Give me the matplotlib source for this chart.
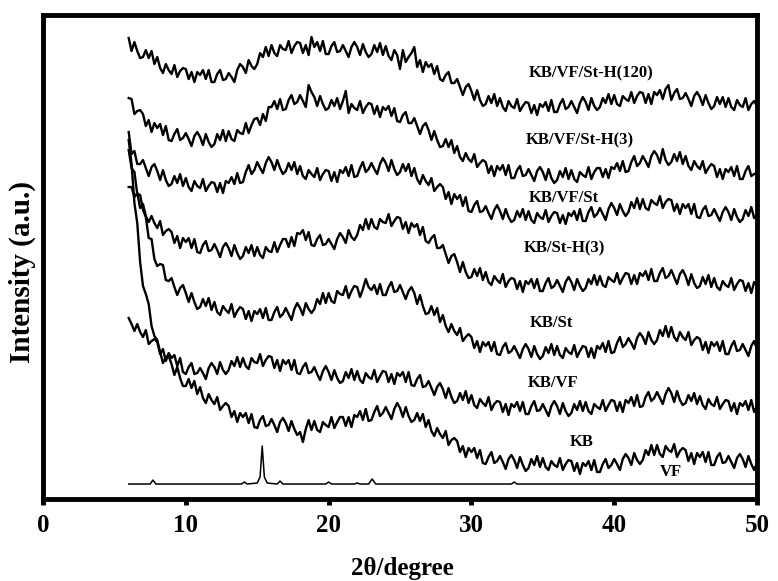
import numpy as np
import matplotlib
matplotlib.use("Agg")
import matplotlib.pyplot as plt

plt.rcParams['font.family'] = ['Liberation Serif', 'DejaVu Serif']
plt.rcParams['font.weight'] = 'bold'

# 2theta grid of the amorphous patterns: 6..50 deg, step 0.2
two_theta = np.linspace(6.0, 50.0, 221)

# stacked intensities (a.u.), one row per degree (5 points)
kb_vf_st_h120 = [
    461, 448, 457, 448, 441,  442, 449, 441, 448, 435,  442, 431, 426, 435, 429,
    425, 434, 422, 428, 431,  430, 420, 427, 417, 427,  424, 429, 420, 429, 417,
    417, 425, 429, 419, 420,  426, 422, 417, 429, 435,  432, 426, 439, 433, 430,
    435, 446, 442, 452, 443,  454, 446, 443, 454, 450,  449, 458, 446, 453, 457,
    456, 446, 454, 444, 462,  452, 457, 448, 458, 445,  445, 453, 457, 447, 448,
    454, 448, 442, 452, 457,  452, 444, 455, 447, 442,  445, 454, 447, 456, 444,
    453, 443, 439, 449, 444,  430, 449, 437, 442, 446,  452, 432, 439, 427, 437,
    432, 435, 425, 433, 420,  418, 424, 427, 416, 416,  420, 412, 404, 412, 415,
    408, 399, 409, 399, 393,  395, 403, 396, 405, 393,  401, 392, 388, 398, 393,
    391, 400, 388, 393, 397,  396, 386, 394, 384, 395,  392, 397, 388, 399, 387,
    387, 395, 400, 390, 392,  398, 392, 386, 396, 402,  397, 389, 401, 393, 389,
    392, 401, 396, 405, 395,  404, 395, 393, 403, 400,  398, 407, 396, 403, 407,
    406, 396, 405, 395, 407,  404, 409, 400, 410, 414,  399, 406, 410, 400, 401,
    406, 400, 393, 403, 407,  402, 394, 404, 396, 390,  393, 402, 395, 402, 392,
    401, 392, 389, 399, 394,  392, 401, 389, 395, 398,
    393]
kb_vf_st_h3 = [
    401, 400, 385, 388, 389,  385, 373, 379, 367, 376,  371, 375, 364, 373, 359,
    358, 365, 370, 359, 361,  366, 360, 353, 363, 367,  362, 354, 365, 357, 352,
    355, 365, 359, 369, 358,  368, 360, 358, 369, 366,  365, 376, 366, 374, 380,
    381, 374, 385, 378, 392,  392, 398, 390, 400, 389,  390, 399, 404, 395, 397,
    404, 398, 392, 414, 407,  402, 393, 403, 395, 389,  391, 399, 393, 401, 390,
    398, 408, 386, 395, 391,  389, 398, 386, 392, 396,  395, 385, 393, 382, 392,
    389, 393, 383, 391, 378,  377, 384, 387, 376, 376,  381, 373, 365, 373, 376,
    369, 359, 368, 359, 352,  353, 360, 352, 359, 346,  353, 342, 338, 346, 340,
    337, 345, 332, 336, 339,  337, 326, 333, 323, 333,  329, 334, 324, 334, 321,
    321, 329, 333, 323, 324,  330, 324, 318, 328, 332,  327, 319, 330, 321, 316,
    319, 328, 322, 331, 320,  329, 320, 317, 327, 324,  322, 332, 320, 327, 331,
    331, 322, 330, 321, 332,  330, 336, 328, 338, 327,  328, 337, 343, 333, 336,
    343, 338, 332, 343, 348,  344, 336, 350, 339, 334,  337, 345, 338, 347, 335,
    343, 333, 329, 338, 333,  330, 338, 326, 331, 335,  333, 322, 330, 320, 330,
    327, 332, 323, 333, 320,  320, 328, 333, 323, 325,
    326]
kb_vf_st = [
    367, 345, 348, 335, 335,  339, 331, 323, 332, 335,  328, 319, 329, 319, 313,
    315, 323, 316, 325, 313,  321, 312, 308, 318, 313,  311, 320, 308, 313, 317,
    316, 307, 316, 306, 318,  316, 322, 315, 326, 316,  317, 327, 334, 325, 329,
    337, 331, 326, 336, 342,  337, 329, 339, 331, 325,  328, 336, 329, 337, 325,
    333, 323, 320, 329, 325,  322, 331, 319, 325, 329,  328, 318, 327, 317, 329,
    326, 332, 323, 334, 322,  323, 331, 337, 327, 330,  336, 330, 325, 335, 341,
    336, 328, 339, 330, 324,  327, 335, 328, 335, 323,  331, 320, 315, 324, 318,
    314, 321, 308, 312, 315,  312, 300, 307, 295, 305,  300, 304, 293, 302, 288,
    287, 294, 298, 287, 288,  293, 286, 280, 289, 294,  288, 280, 290, 282, 277,
    279, 288, 282, 290, 279,  288, 279, 276, 286, 282,  280, 289, 277, 283, 287,
    286, 276, 284, 275, 286,  283, 288, 279, 290, 278,  278, 287, 292, 282, 285,
    291, 285, 279, 290, 296,  291, 284, 295, 288, 283,  287, 297, 291, 301, 290,
    300, 291, 289, 299, 296,  294, 303, 291, 297, 300,  299, 288, 295, 285, 295,
    291, 295, 285, 295, 282,  281, 289, 293, 283, 284,  290, 284, 278, 287, 292,
    287, 279, 290, 282, 277,  280, 289, 283, 292, 281,
    284]
kb_st_h3 = [
    312, 312, 302, 306, 291,  295, 283, 277, 283, 276,  271, 278, 264, 268, 270,
    267, 256, 263, 251, 261,  257, 261, 251, 260, 247,  246, 254, 258, 248, 249,
    255, 249, 242, 252, 256,  251, 243, 254, 246, 240,  243, 252, 246, 254, 243,
    252, 244, 241, 252, 248,  247, 257, 247, 254, 260,  260, 252, 262, 253, 266,
    265, 269, 259, 267, 254,  253, 260, 264, 254, 255,  260, 255, 250, 260, 266,
    262, 256, 269, 262, 259,  264, 274, 269, 280, 270,  280, 272, 270, 280, 277,
    276, 285, 273, 278, 282,  281, 270, 277, 266, 276,  272, 275, 264, 272, 258,
    256, 261, 264, 251, 251,  254, 245, 236, 243, 245,  237, 227, 237, 227, 221,
    222, 230, 223, 231, 219,  227, 217, 214, 223, 219,  216, 225, 212, 218, 221,
    220, 210, 218, 207, 218,  215, 220, 211, 220, 208,  208, 216, 221, 211, 213,
    219, 213, 207, 217, 222,  217, 209, 220, 213, 208,  211, 220, 215, 224, 214,
    223, 214, 212, 222, 219,  217, 226, 215, 221, 226,  225, 215, 224, 215, 226,
    223, 228, 219, 230, 218,  218, 226, 231, 221, 223,  229, 222, 215, 225, 229,
    223, 214, 225, 216, 211,  213, 222, 215, 224, 212,  221, 212, 209, 218, 214,
    212, 221, 209, 215, 219,  218, 208, 216, 206, 217,
    214]
kb_st = [
    349, 331, 327, 305, 304,  289, 282, 261, 260, 240,  233, 235, 234, 219, 218,
    221, 212, 204, 211, 214,  206, 197, 206, 197, 190,  192, 200, 193, 201, 189,
    197, 187, 184, 193, 189,  186, 195, 182, 188, 192,  190, 180, 188, 178, 188,
    185, 190, 181, 191, 179,  179, 187, 192, 182, 185,  191, 185, 179, 190, 196,
    191, 184, 196, 190, 186,  190, 200, 195, 206, 196,  206, 198, 196, 208, 205,
    204, 213, 201, 208, 213,  212, 202, 210, 220, 212,  209, 214, 205, 215, 204,
    204, 212, 217, 207, 208,  214, 207, 200, 208, 212,  206, 195, 204, 193, 185,
    186, 193, 184, 191, 177,  184, 173, 167, 175, 168,  164, 171, 158, 162, 165,
    162, 151, 158, 147, 157,  153, 157, 148, 157, 145,  144, 152, 156, 146, 148,
    153, 147, 141, 150, 155,  150, 142, 153, 145, 140,  143, 152, 146, 155, 144,
    153, 144, 141, 151, 147,  145, 154, 142, 148, 153,  152, 142, 151, 141, 153,
    150, 156, 147, 158, 146,  147, 156, 162, 152, 155,  161, 156, 150, 161, 166,
    162, 155, 167, 159, 155,  159, 169, 163, 173, 162,  172, 162, 158, 167, 162,
    159, 167, 154, 159, 162,  160, 149, 157, 146, 157,  153, 157, 148, 158, 145,
    145, 153, 158, 148, 149,  155, 149, 143, 153, 158,
    150]
kb_vf = [
    181, 175, 168, 175, 167,  162, 169, 155, 158, 160,  157, 145, 150, 138, 146,
    141, 144, 133, 141, 127,  125, 132, 136, 125, 126,  131, 126, 120, 131, 136,
    132, 125, 137, 129, 125,  129, 138, 133, 142, 132,  141, 133, 130, 141, 137,
    136, 145, 133, 139, 143,  142, 131, 139, 128, 139,  135, 139, 129, 139, 126,
    125, 132, 136, 126, 127,  132, 125, 119, 128, 133,  127, 119, 129, 121, 116,
    118, 127, 121, 130, 119,  128, 119, 116, 126, 122,  120, 129, 117, 123, 128,
    127, 117, 125, 115, 126,  123, 127, 117, 127, 114,  113, 120, 124, 112, 113,
    118, 111, 104, 112, 116,  110, 101, 111, 102, 96,   98, 106, 99, 108, 96,
    104, 94, 91, 100, 96,     93, 102, 89, 95, 98,     97, 87, 95, 84, 95,
    92, 97, 88, 97, 85,       85, 93, 98, 88, 89,      95, 89, 83, 93, 98,
    93, 85, 96, 88, 83,       86, 95, 89, 98, 88,      97, 88, 85, 95, 92,
    90, 99, 88, 94, 99,       98, 88, 97, 87, 99,      96, 102, 93, 104, 92,
    93, 102, 107, 98, 101,    107, 101, 95, 105, 111,  106, 97, 108, 99, 94,
    96, 104, 98, 106, 95,     103, 94, 90, 100, 95,    93, 102, 90, 95, 99,
    98, 88, 96, 85, 96,       93, 98, 89, 99, 87,
    93]
kb = [
    359, 335, 296, 276, 237,  213, 205, 195, 173, 163,  159, 147, 136, 142, 143,
    135, 124, 132, 121, 113,  113, 120, 111, 118, 105,  112, 101, 96, 105, 99,
    95, 102, 89, 93, 96,      93, 82, 88, 77, 86,      82, 86, 76, 85, 72,
    71, 79, 83, 73, 74,       80, 74, 67, 77, 81,      76, 68, 78, 70, 64,
    67, 57, 70, 79, 69,       78, 69, 67, 77, 74,      72, 82, 71, 77, 82,
    82, 73, 82, 72, 84,       82, 88, 79, 90, 78,      79, 87, 93, 83, 86,
    92, 86, 80, 90, 96,       91, 82, 92, 83, 77,      79, 86, 78, 85, 72,
    79, 68, 63, 71, 65,       61, 68, 54, 59, 61,      58, 47, 53, 42, 51,
    47, 51, 41, 49, 36,       35, 42, 47, 36, 38,      43, 37, 30, 40, 44,
    39, 31, 42, 34, 28,       31, 40, 34, 43, 32,      41, 32, 29, 38, 34,
    32, 41, 29, 35, 39,       38, 28, 36, 25, 36,      33, 38, 29, 39, 27,
    27, 35, 40, 31, 34,       40, 35, 29, 40, 45,      41, 34, 46, 39, 35,
    39, 49, 44, 54, 44,       54, 45, 42, 53, 49,      47, 55, 42, 48, 51,
    49, 38, 46, 35, 46,       42, 47, 37, 47, 34,      34, 42, 46, 36, 37,
    43, 37, 31, 41, 45,       40, 32, 43, 35, 29,
    36]

# crystalline VF: sparse points, sharp reflections
vf_theta = [6.0, 7.5, 7.7, 7.9, 13.9, 14.1, 14.3, 15.0, 15.2, 15.35, 15.5, 15.7,
            16.4, 16.6, 16.8, 19.8, 20.0, 20.2, 21.8, 22.0, 22.2, 22.8, 23.05, 23.3,
            32.8, 33.0, 33.2, 50.0]
vf = [15, 15, 19, 15, 15, 17, 15, 16, 22, 53, 22, 16,
      15, 18, 15, 15, 17, 15, 15, 16, 15, 15, 20, 15,
      15, 17, 15, 15]

series = [kb_vf_st_h120, kb_vf_st_h3, kb_vf_st, kb_st_h3, kb_st, kb_vf, kb]
names = ['KB/VF/St-H(120)', 'KB/VF/St-H(3)', 'KB/VF/St', 'KB/St-H(3)',
         'KB/St', 'KB/VF', 'KB', 'VF']
label_x = [38.4, 37.6, 36.5, 36.5, 35.6, 35.7, 37.7, 44.0]
label_y = [426, 359, 301, 251, 176, 116, 57, 27]

fig = plt.figure(figsize=(7.78, 5.81), dpi=100)
ax = fig.add_axes([0.0553, 0.1411, 0.9177, 0.8330])

for ys in series:
    ax.plot(two_theta, ys, color='black', lw=1.7)
ax.plot(vf_theta, vf, color='black', lw=1.1)

for name, lx, ly in zip(names, label_x, label_y):
    ax.text(lx, ly, name, fontsize=12, fontweight='bold', ha='center', va='center')

ax.set_xlim(0, 50)
ax.set_ylim(0, 484)
ax.set_xticks([0, 10, 20, 30, 40, 50])
ax.set_yticks([])
for s in ax.spines.values():
    s.set_linewidth(3.5)
ax.tick_params(axis='x', direction='out', length=4, width=3.5, pad=7, labelsize=18)

fig.text(402 / 778, 1 - 568 / 581, '2\u03b8/degree', fontsize=18, fontweight='bold',
         ha='center', va='center')
fig.text(22 / 778, 1 - 272 / 581, 'Intensity (a.u.)', fontsize=21, fontweight='bold',
         ha='center', va='center', rotation=90)

fig.savefig('out.png', dpi=100)
